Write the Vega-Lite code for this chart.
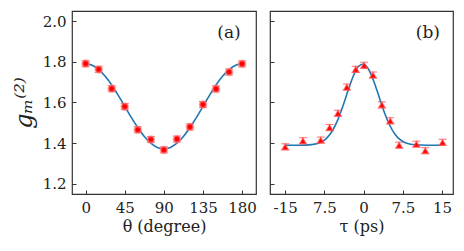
{
  "$schema": "https://vega.github.io/schema/vega-lite/v6.json",
  "background": "white",
  "padding": {"left": 11, "top": 10, "right": 10, "bottom": 2},
  "spacing": 10,
  "config": {
    "view": {"stroke": "#333333", "strokeWidth": 1.2},
    "font": "DejaVu Serif",
    "text": {"font": "DejaVu Serif"},
    "axis": {
      "domain": false,
      "grid": false,
      "tickSize": -4,
      "tickColor": "#333333",
      "labelFont": "DejaVu Serif",
      "titleFont": "DejaVu Serif",
      "labelFontSize": 15,
      "labelColor": "#222222",
      "titleFontSize": 16,
      "titleFontWeight": "normal",
      "titleColor": "#222222"
    }
  },
  "datasets": {
    "ptsA": [
      {"theta": 0, "g": 1.791, "e": 0.015},
      {"theta": 15, "g": 1.763, "e": 0.015},
      {"theta": 30, "g": 1.668, "e": 0.015},
      {"theta": 45, "g": 1.580, "e": 0.015},
      {"theta": 60, "g": 1.466, "e": 0.015},
      {"theta": 75, "g": 1.418, "e": 0.015},
      {"theta": 90, "g": 1.367, "e": 0.015},
      {"theta": 105, "g": 1.420, "e": 0.015},
      {"theta": 120, "g": 1.480, "e": 0.015},
      {"theta": 135, "g": 1.590, "e": 0.015},
      {"theta": 150, "g": 1.667, "e": 0.015},
      {"theta": 165, "g": 1.750, "e": 0.015},
      {"theta": 180, "g": 1.790, "e": 0.015}
    ],
    "fitA": [
      {"theta": 0, "g": 1.790}, {"theta": 7.5, "g": 1.783}, {"theta": 15, "g": 1.762},
      {"theta": 22.5, "g": 1.729}, {"theta": 30, "g": 1.686}, {"theta": 37.5, "g": 1.635},
      {"theta": 45, "g": 1.581}, {"theta": 52.5, "g": 1.527}, {"theta": 60, "g": 1.477},
      {"theta": 67.5, "g": 1.433}, {"theta": 75, "g": 1.400}, {"theta": 82.5, "g": 1.379},
      {"theta": 90, "g": 1.372}, {"theta": 97.5, "g": 1.379}, {"theta": 105, "g": 1.400},
      {"theta": 112.5, "g": 1.433}, {"theta": 120, "g": 1.477}, {"theta": 127.5, "g": 1.527},
      {"theta": 135, "g": 1.581}, {"theta": 142.5, "g": 1.635}, {"theta": 150, "g": 1.686},
      {"theta": 157.5, "g": 1.729}, {"theta": 165, "g": 1.762}, {"theta": 172.5, "g": 1.783},
      {"theta": 180, "g": 1.790}
    ],
    "ptsB": [
      {"tau": -15.0, "g": 1.382, "e": 0.015},
      {"tau": -11.6, "g": 1.412, "e": 0.015},
      {"tau": -8.2, "g": 1.415, "e": 0.015},
      {"tau": -6.5, "g": 1.477, "e": 0.015},
      {"tau": -4.9, "g": 1.547, "e": 0.015},
      {"tau": -3.2, "g": 1.676, "e": 0.015},
      {"tau": -1.5, "g": 1.763, "e": 0.015},
      {"tau": 0.1, "g": 1.783, "e": 0.015},
      {"tau": 1.8, "g": 1.735, "e": 0.015},
      {"tau": 3.5, "g": 1.588, "e": 0.015},
      {"tau": 5.1, "g": 1.510, "e": 0.015},
      {"tau": 6.8, "g": 1.390, "e": 0.015},
      {"tau": 10.1, "g": 1.395, "e": 0.015},
      {"tau": 11.8, "g": 1.363, "e": 0.015},
      {"tau": 15.1, "g": 1.404, "e": 0.015}
    ],
    "fitB": [
      {"tau": -15, "g": 1.390}, {"tau": -12, "g": 1.390}, {"tau": -10, "g": 1.393},
      {"tau": -9, "g": 1.397}, {"tau": -8, "g": 1.407}, {"tau": -7, "g": 1.426},
      {"tau": -6, "g": 1.460}, {"tau": -5, "g": 1.511}, {"tau": -4, "g": 1.579},
      {"tau": -3, "g": 1.656}, {"tau": -2, "g": 1.728}, {"tau": -1, "g": 1.777},
      {"tau": 0, "g": 1.789}, {"tau": 1, "g": 1.761}, {"tau": 2, "g": 1.701},
      {"tau": 3, "g": 1.625}, {"tau": 4, "g": 1.550}, {"tau": 5, "g": 1.488},
      {"tau": 6, "g": 1.444}, {"tau": 7, "g": 1.417}, {"tau": 8, "g": 1.402},
      {"tau": 9, "g": 1.395}, {"tau": 10, "g": 1.392}, {"tau": 12, "g": 1.390},
      {"tau": 15, "g": 1.390}
    ]
  },
  "hconcat": [
    {
      "width": 184,
      "height": 183,
      "layer": [
        {
          "data": {"name": "fitA"},
          "mark": {"type": "line", "color": "#1f77b4", "strokeWidth": 1.6, "interpolate": "monotone"},
          "encoding": {
            "x": {
              "field": "theta", "type": "quantitative",
              "scale": {"domain": [-15.7, 196], "nice": false, "zero": false},
              "axis": {"values": [0, 45, 90, 135, 180], "title": "θ (degree)", "labelPadding": 10, "titlePadding": 3}
            },
            "y": {
              "field": "g", "type": "quantitative",
              "scale": {"domain": [1.15, 2.05], "nice": false, "zero": false},
              "axis": {"values": [1.2, 1.4, 1.6, 1.8, 2.0], "format": ".1f", "title": "gₘ⁽²⁾", "titleFontSize": 24, "titleFontStyle": "italic", "labelPadding": 10, "titlePadding": 6}
            }
          }
        },
        {
          "data": {"name": "ptsA"},
          "mark": {"type": "errorbar", "color": "#ff5555", "opacity": 0.7, "ticks": {"size": 8, "color": "#ff3333"}},
          "encoding": {
            "x": {"field": "theta", "type": "quantitative", "title": "θ (degree)"},
            "y": {"field": "g", "type": "quantitative", "title": "gₘ⁽²⁾"},
            "yError": {"field": "e"}
          }
        },
        {
          "data": {"name": "ptsA"},
          "mark": {"type": "point", "shape": "circle", "filled": true, "color": "#ff0000", "size": 45, "opacity": 1, "stroke": "#ff8888", "strokeWidth": 2, "strokeOpacity": 0.6},
          "encoding": {
            "x": {"field": "theta", "type": "quantitative", "title": "θ (degree)"},
            "y": {"field": "g", "type": "quantitative", "title": "gₘ⁽²⁾"}
          }
        },
        {
          "data": {"values": [{"lbl": "(a)"}]},
          "mark": {"type": "text", "fontSize": 17, "color": "#222222"},
          "encoding": {
            "x": {"datum": 165, "type": "quantitative"},
            "y": {"datum": 1.94, "type": "quantitative"},
            "text": {"field": "lbl", "type": "nominal"}
          }
        }
      ]
    },
    {
      "width": 183,
      "height": 183,
      "layer": [
        {
          "data": {"name": "fitB"},
          "mark": {"type": "line", "color": "#1f77b4", "strokeWidth": 1.6, "interpolate": "monotone"},
          "encoding": {
            "x": {
              "field": "tau", "type": "quantitative",
              "scale": {"domain": [-17.9, 17.1], "nice": false, "zero": false},
              "axis": {"values": [-15, -7.5, 0, 7.5, 15], "labelExpr": "datum.value == -15 ? '-15' : datum.value == -7.5 ? '7.5' : '' + datum.value", "title": "τ (ps)", "labelPadding": 10, "titlePadding": 3}
            },
            "y": {
              "field": "g", "type": "quantitative",
              "scale": {"domain": [1.15, 2.05], "nice": false, "zero": false},
              "axis": {"values": [1.2, 1.4, 1.6, 1.8, 2.0], "labels": false, "title": null}
            }
          }
        },
        {
          "data": {"name": "ptsB"},
          "mark": {"type": "errorbar", "color": "#ff5555", "opacity": 0.7, "ticks": {"size": 8, "color": "#ff3333"}},
          "encoding": {
            "x": {"field": "tau", "type": "quantitative", "title": "τ (ps)"},
            "y": {"field": "g", "type": "quantitative", "title": null},
            "yError": {"field": "e"}
          }
        },
        {
          "data": {"name": "ptsB"},
          "mark": {"type": "point", "shape": "triangle-up", "filled": true, "color": "#ff0000", "size": 45, "opacity": 1, "stroke": "#ff6666", "strokeWidth": 1.5, "strokeOpacity": 0.5},
          "encoding": {
            "x": {"field": "tau", "type": "quantitative", "title": "τ (ps)"},
            "y": {"field": "g", "type": "quantitative", "title": null}
          }
        },
        {
          "data": {"values": [{"lbl": "(b)"}]},
          "mark": {"type": "text", "fontSize": 17, "color": "#222222"},
          "encoding": {
            "x": {"datum": 12.3, "type": "quantitative"},
            "y": {"datum": 1.94, "type": "quantitative"},
            "text": {"field": "lbl", "type": "nominal"}
          }
        }
      ]
    }
  ]
}
